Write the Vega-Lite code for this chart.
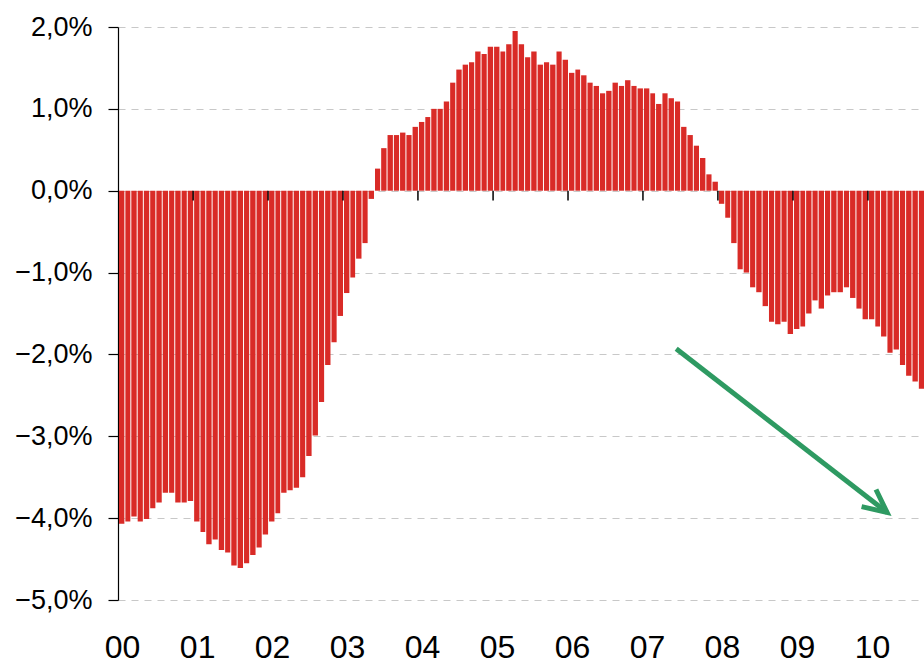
{
  "$schema": "https://vega.github.io/schema/vega-lite/v6.json",
  "width": 806,
  "height": 573,
  "autosize": {"type": "none"},
  "padding": {"left": 118, "top": 27, "right": 0, "bottom": 64},
  "background": "white",
  "config": {"view": {"stroke": null}},
  "datasets": {
    "bars": [
      {"date": "2000-01-01", "value": -4.07}, {"date": "2000-02-01", "value": -4.04}, {"date": "2000-03-01", "value": -3.98}, {"date": "2000-04-01", "value": -4.04},
      {"date": "2000-05-01", "value": -4.01}, {"date": "2000-06-01", "value": -3.88}, {"date": "2000-07-01", "value": -3.81}, {"date": "2000-08-01", "value": -3.69},
      {"date": "2000-09-01", "value": -3.69}, {"date": "2000-10-01", "value": -3.81}, {"date": "2000-11-01", "value": -3.81}, {"date": "2000-12-01", "value": -3.79},
      {"date": "2001-01-01", "value": -4.04}, {"date": "2001-02-01", "value": -4.17}, {"date": "2001-03-01", "value": -4.32}, {"date": "2001-04-01", "value": -4.26},
      {"date": "2001-05-01", "value": -4.39}, {"date": "2001-06-01", "value": -4.42}, {"date": "2001-07-01", "value": -4.58}, {"date": "2001-08-01", "value": -4.61},
      {"date": "2001-09-01", "value": -4.55}, {"date": "2001-10-01", "value": -4.45}, {"date": "2001-11-01", "value": -4.36}, {"date": "2001-12-01", "value": -4.20},
      {"date": "2002-01-01", "value": -4.04}, {"date": "2002-02-01", "value": -3.94}, {"date": "2002-03-01", "value": -3.69}, {"date": "2002-04-01", "value": -3.66},
      {"date": "2002-05-01", "value": -3.63}, {"date": "2002-06-01", "value": -3.50}, {"date": "2002-07-01", "value": -3.24}, {"date": "2002-08-01", "value": -2.99},
      {"date": "2002-09-01", "value": -2.58}, {"date": "2002-10-01", "value": -2.13}, {"date": "2002-11-01", "value": -1.85}, {"date": "2002-12-01", "value": -1.53},
      {"date": "2003-01-01", "value": -1.25}, {"date": "2003-02-01", "value": -1.06}, {"date": "2003-03-01", "value": -0.83}, {"date": "2003-04-01", "value": -0.64},
      {"date": "2003-05-01", "value": -0.10}, {"date": "2003-06-01", "value": 0.27}, {"date": "2003-07-01", "value": 0.52}, {"date": "2003-08-01", "value": 0.68},
      {"date": "2003-09-01", "value": 0.68}, {"date": "2003-10-01", "value": 0.71}, {"date": "2003-11-01", "value": 0.68}, {"date": "2003-12-01", "value": 0.78},
      {"date": "2004-01-01", "value": 0.84}, {"date": "2004-02-01", "value": 0.90}, {"date": "2004-03-01", "value": 1.00}, {"date": "2004-04-01", "value": 1.00},
      {"date": "2004-05-01", "value": 1.09}, {"date": "2004-06-01", "value": 1.32}, {"date": "2004-07-01", "value": 1.48}, {"date": "2004-08-01", "value": 1.54},
      {"date": "2004-09-01", "value": 1.57}, {"date": "2004-10-01", "value": 1.70}, {"date": "2004-11-01", "value": 1.67}, {"date": "2004-12-01", "value": 1.76},
      {"date": "2005-01-01", "value": 1.76}, {"date": "2005-02-01", "value": 1.70}, {"date": "2005-03-01", "value": 1.79}, {"date": "2005-04-01", "value": 1.95},
      {"date": "2005-05-01", "value": 1.79}, {"date": "2005-06-01", "value": 1.63}, {"date": "2005-07-01", "value": 1.70}, {"date": "2005-08-01", "value": 1.54},
      {"date": "2005-09-01", "value": 1.57}, {"date": "2005-10-01", "value": 1.54}, {"date": "2005-11-01", "value": 1.70}, {"date": "2005-12-01", "value": 1.60},
      {"date": "2006-01-01", "value": 1.44}, {"date": "2006-02-01", "value": 1.48}, {"date": "2006-03-01", "value": 1.41}, {"date": "2006-04-01", "value": 1.32},
      {"date": "2006-05-01", "value": 1.28}, {"date": "2006-06-01", "value": 1.19}, {"date": "2006-07-01", "value": 1.22}, {"date": "2006-08-01", "value": 1.32},
      {"date": "2006-09-01", "value": 1.28}, {"date": "2006-10-01", "value": 1.35}, {"date": "2006-11-01", "value": 1.28}, {"date": "2006-12-01", "value": 1.25},
      {"date": "2007-01-01", "value": 1.25}, {"date": "2007-02-01", "value": 1.19}, {"date": "2007-03-01", "value": 1.06}, {"date": "2007-04-01", "value": 1.19},
      {"date": "2007-05-01", "value": 1.13}, {"date": "2007-06-01", "value": 1.09}, {"date": "2007-07-01", "value": 0.78}, {"date": "2007-08-01", "value": 0.68},
      {"date": "2007-09-01", "value": 0.55}, {"date": "2007-10-01", "value": 0.40}, {"date": "2007-11-01", "value": 0.20}, {"date": "2007-12-01", "value": 0.11},
      {"date": "2008-01-01", "value": -0.16}, {"date": "2008-02-01", "value": -0.33}, {"date": "2008-03-01", "value": -0.64}, {"date": "2008-04-01", "value": -0.96},
      {"date": "2008-05-01", "value": -1.00}, {"date": "2008-06-01", "value": -1.18}, {"date": "2008-07-01", "value": -1.24}, {"date": "2008-08-01", "value": -1.41},
      {"date": "2008-09-01", "value": -1.60}, {"date": "2008-10-01", "value": -1.63}, {"date": "2008-11-01", "value": -1.60}, {"date": "2008-12-01", "value": -1.75},
      {"date": "2009-01-01", "value": -1.69}, {"date": "2009-02-01", "value": -1.66}, {"date": "2009-03-01", "value": -1.50}, {"date": "2009-04-01", "value": -1.34},
      {"date": "2009-05-01", "value": -1.44}, {"date": "2009-06-01", "value": -1.28}, {"date": "2009-07-01", "value": -1.24}, {"date": "2009-08-01", "value": -1.24},
      {"date": "2009-09-01", "value": -1.18}, {"date": "2009-10-01", "value": -1.31}, {"date": "2009-11-01", "value": -1.44}, {"date": "2009-12-01", "value": -1.57},
      {"date": "2010-01-01", "value": -1.57}, {"date": "2010-02-01", "value": -1.66}, {"date": "2010-03-01", "value": -1.78}, {"date": "2010-04-01", "value": -1.98},
      {"date": "2010-05-01", "value": -1.94}, {"date": "2010-06-01", "value": -2.13}, {"date": "2010-07-01", "value": -2.26}, {"date": "2010-08-01", "value": -2.33},
      {"date": "2010-09-01", "value": -2.42}
    ],
    "ticks": [
      {"date": "2001-01-01"}, {"date": "2002-01-01"}, {"date": "2003-01-01"}, {"date": "2004-01-01"}, {"date": "2005-01-01"},
      {"date": "2006-01-01"}, {"date": "2007-01-01"}, {"date": "2008-01-01"}, {"date": "2009-01-01"}, {"date": "2010-01-01"}
    ],
    "arrow": [
      {"part": "shaft", "order": 1, "date": "2007-06-12", "value": -1.93},
      {"part": "shaft", "order": 2, "date": "2010-04-04", "value": -3.93},
      {"part": "head", "order": 1, "date": "2010-02-09", "value": -3.65},
      {"part": "head", "order": 2, "date": "2010-04-04", "value": -3.93},
      {"part": "head", "order": 3, "date": "2009-12-01", "value": -3.86}
    ]
  },
  "layer": [
    {
      "data": {"name": "bars"},
      "mark": {"type": "bar", "color": "#D92B27", "timeUnitBandSize": 0.92},
      "encoding": {
        "x": {
          "field": "date", "timeUnit": "utcyearmonth", "type": "temporal",
          "scale": {"type": "utc", "domain": [{"year": 2000, "month": 1, "date": 1, "utc": true}, {"year": 2010, "month": 10, "date": 1, "utc": true}]},
          "axis": {
            "title": null,
            "values": [
              {"year": 2000, "month": 1, "date": 1, "utc": true}, {"year": 2001, "month": 1, "date": 1, "utc": true},
              {"year": 2002, "month": 1, "date": 1, "utc": true}, {"year": 2003, "month": 1, "date": 1, "utc": true},
              {"year": 2004, "month": 1, "date": 1, "utc": true}, {"year": 2005, "month": 1, "date": 1, "utc": true},
              {"year": 2006, "month": 1, "date": 1, "utc": true}, {"year": 2007, "month": 1, "date": 1, "utc": true},
              {"year": 2008, "month": 1, "date": 1, "utc": true}, {"year": 2009, "month": 1, "date": 1, "utc": true},
              {"year": 2010, "month": 1, "date": 1, "utc": true}
            ],
            "labelExpr": "utcFormat(datum.value, '%y')",
            "domain": false,
            "ticks": false,
            "grid": false,
            "labelFont": "Liberation Sans",
            "labelFontSize": 32,
            "labelColor": "#000000",
            "labelPadding": 32,
            "labelOffset": 4,
            "labelFlush": false,
            "labelOverlap": false
          }
        },
        "y": {
          "field": "value", "type": "quantitative",
          "scale": {"domain": [-5, 2], "nice": false, "zero": false},
          "axis": {
            "title": null,
            "values": [-5, -4, -3, -2, -1, 0, 1, 2],
            "labelExpr": "replace(format(datum.value, '.1f'), '.', ',') + '%'",
            "domainColor": "#000000",
            "domainWidth": 1.2,
            "tickColor": "#000000",
            "tickSize": 10,
            "tickWidth": 1.2,
            "grid": true,
            "gridColor": "#c8c8c8",
            "gridDash": [7, 6],
            "gridWidth": 1.2,
            "labelFont": "Liberation Sans",
            "labelFontSize": 27,
            "labelColor": "#000000",
            "labelPadding": 16
          }
        }
      }
    },
    {
      "mark": {"type": "rule", "color": "#000000", "strokeWidth": 1.5},
      "encoding": {"y": {"datum": 0}}
    },
    {
      "data": {"name": "ticks"},
      "mark": {"type": "rule", "color": "#000000", "strokeWidth": 1.5},
      "encoding": {
        "x": {"field": "date", "type": "temporal"},
        "y": {"datum": 0},
        "y2": {"datum": -0.12}
      }
    },
    {
      "data": {"name": "arrow"},
      "mark": {"type": "line", "color": "#2E9A62", "strokeWidth": 5, "strokeJoin": "miter", "strokeCap": "butt"},
      "encoding": {
        "x": {"field": "date", "type": "temporal"},
        "y": {"field": "value", "type": "quantitative"},
        "detail": {"field": "part"},
        "order": {"field": "order"}
      }
    }
  ]
}
